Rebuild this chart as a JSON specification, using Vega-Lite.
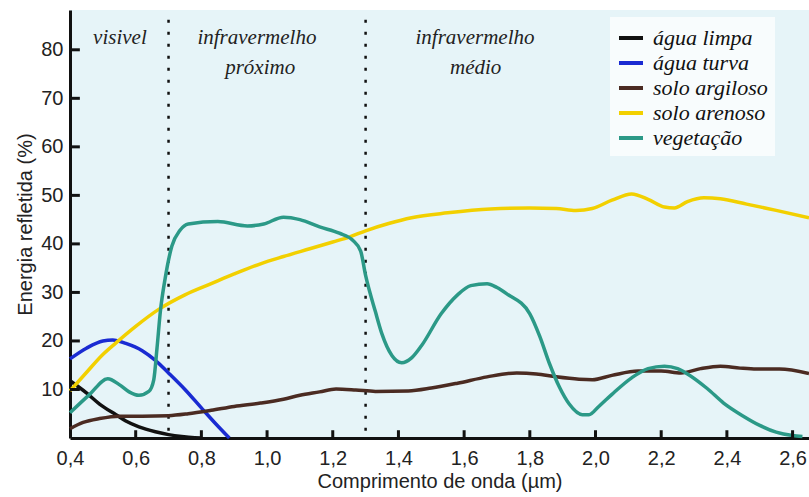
{
  "$schema": "https://vega.github.io/schema/vega-lite/v6.json",
  "width": 739,
  "height": 428,
  "autosize": {"type": "none"},
  "padding": {"left": 70, "top": 10, "right": 0, "bottom": 59},
  "background": "white",
  "config": {
    "view": {"fill": "#e6f4f8", "stroke": null},
    "font": "Liberation Sans",
    "axis": {
      "domainColor": "#111", "domainWidth": 3, "ticks": false, "tickSize": 0,
      "labelFont": "Liberation Sans", "labelFontSize": 20, "labelColor": "#222",
      "titleFont": "Liberation Sans", "titleFontSize": 20, "titleFontWeight": "normal", "titleColor": "#222",
      "grid": false, "zindex": 1
    }
  },
  "datasets": {
    "curves": [
      {"serie": "água limpa", "wl": 0.40, "refl": 11.8},
      {"serie": "água limpa", "wl": 0.45, "refl": 9.3},
      {"serie": "água limpa", "wl": 0.49, "refl": 7.0},
      {"serie": "água limpa", "wl": 0.54, "refl": 4.8},
      {"serie": "água limpa", "wl": 0.57, "refl": 3.5},
      {"serie": "água limpa", "wl": 0.61, "refl": 2.3},
      {"serie": "água limpa", "wl": 0.66, "refl": 1.3},
      {"serie": "água limpa", "wl": 0.70, "refl": 0.7},
      {"serie": "água limpa", "wl": 0.74, "refl": 0.3},
      {"serie": "água limpa", "wl": 0.78, "refl": 0.05},
      {"serie": "água limpa", "wl": 0.80, "refl": 0},
      {"serie": "água turva", "wl": 0.40, "refl": 16.3},
      {"serie": "água turva", "wl": 0.45, "refl": 18.5},
      {"serie": "água turva", "wl": 0.50, "refl": 20.0},
      {"serie": "água turva", "wl": 0.53, "refl": 20.2},
      {"serie": "água turva", "wl": 0.57, "refl": 19.5},
      {"serie": "água turva", "wl": 0.62, "refl": 18.0},
      {"serie": "água turva", "wl": 0.66, "refl": 16.0},
      {"serie": "água turva", "wl": 0.70, "refl": 13.4},
      {"serie": "água turva", "wl": 0.75, "refl": 10.0},
      {"serie": "água turva", "wl": 0.80, "refl": 6.2},
      {"serie": "água turva", "wl": 0.84, "refl": 3.2},
      {"serie": "água turva", "wl": 0.885, "refl": 0},
      {"serie": "solo argiloso", "wl": 0.40, "refl": 1.9},
      {"serie": "solo argiloso", "wl": 0.44, "refl": 3.2},
      {"serie": "solo argiloso", "wl": 0.49, "refl": 4.0},
      {"serie": "solo argiloso", "wl": 0.55, "refl": 4.5},
      {"serie": "solo argiloso", "wl": 0.62, "refl": 4.5},
      {"serie": "solo argiloso", "wl": 0.70, "refl": 4.6},
      {"serie": "solo argiloso", "wl": 0.76, "refl": 5.0},
      {"serie": "solo argiloso", "wl": 0.83, "refl": 5.7},
      {"serie": "solo argiloso", "wl": 0.90, "refl": 6.5},
      {"serie": "solo argiloso", "wl": 0.98, "refl": 7.2},
      {"serie": "solo argiloso", "wl": 1.05, "refl": 8.0},
      {"serie": "solo argiloso", "wl": 1.10, "refl": 8.8},
      {"serie": "solo argiloso", "wl": 1.16, "refl": 9.5},
      {"serie": "solo argiloso", "wl": 1.21, "refl": 10.1},
      {"serie": "solo argiloso", "wl": 1.27, "refl": 9.9},
      {"serie": "solo argiloso", "wl": 1.33, "refl": 9.6},
      {"serie": "solo argiloso", "wl": 1.43, "refl": 9.7},
      {"serie": "solo argiloso", "wl": 1.50, "refl": 10.3},
      {"serie": "solo argiloso", "wl": 1.58, "refl": 11.3},
      {"serie": "solo argiloso", "wl": 1.67, "refl": 12.6},
      {"serie": "solo argiloso", "wl": 1.76, "refl": 13.4},
      {"serie": "solo argiloso", "wl": 1.82, "refl": 13.2},
      {"serie": "solo argiloso", "wl": 1.88, "refl": 12.6},
      {"serie": "solo argiloso", "wl": 1.95, "refl": 12.1},
      {"serie": "solo argiloso", "wl": 1.99, "refl": 12.0},
      {"serie": "solo argiloso", "wl": 2.05, "refl": 12.9},
      {"serie": "solo argiloso", "wl": 2.13, "refl": 13.8},
      {"serie": "solo argiloso", "wl": 2.20, "refl": 13.8},
      {"serie": "solo argiloso", "wl": 2.26, "refl": 13.4},
      {"serie": "solo argiloso", "wl": 2.32, "refl": 14.3},
      {"serie": "solo argiloso", "wl": 2.38, "refl": 14.8},
      {"serie": "solo argiloso", "wl": 2.44, "refl": 14.4},
      {"serie": "solo argiloso", "wl": 2.49, "refl": 14.2},
      {"serie": "solo argiloso", "wl": 2.56, "refl": 14.2},
      {"serie": "solo argiloso", "wl": 2.65, "refl": 13.3},
      {"serie": "solo arenoso", "wl": 0.40, "refl": 9.7},
      {"serie": "solo arenoso", "wl": 0.45, "refl": 13.5},
      {"serie": "solo arenoso", "wl": 0.50, "refl": 17.2},
      {"serie": "solo arenoso", "wl": 0.54, "refl": 19.6},
      {"serie": "solo arenoso", "wl": 0.60, "refl": 23.0},
      {"serie": "solo arenoso", "wl": 0.67, "refl": 26.5},
      {"serie": "solo arenoso", "wl": 0.75, "refl": 29.5},
      {"serie": "solo arenoso", "wl": 0.83, "refl": 31.8},
      {"serie": "solo arenoso", "wl": 0.90, "refl": 33.8},
      {"serie": "solo arenoso", "wl": 0.98, "refl": 35.9},
      {"serie": "solo arenoso", "wl": 1.05, "refl": 37.4},
      {"serie": "solo arenoso", "wl": 1.13, "refl": 39.0},
      {"serie": "solo arenoso", "wl": 1.20, "refl": 40.4},
      {"serie": "solo arenoso", "wl": 1.25, "refl": 41.4},
      {"serie": "solo arenoso", "wl": 1.30, "refl": 42.7},
      {"serie": "solo arenoso", "wl": 1.37, "refl": 44.2},
      {"serie": "solo arenoso", "wl": 1.44, "refl": 45.4},
      {"serie": "solo arenoso", "wl": 1.55, "refl": 46.4},
      {"serie": "solo arenoso", "wl": 1.68, "refl": 47.2},
      {"serie": "solo arenoso", "wl": 1.80, "refl": 47.4},
      {"serie": "solo arenoso", "wl": 1.88, "refl": 47.3},
      {"serie": "solo arenoso", "wl": 1.94, "refl": 46.9},
      {"serie": "solo arenoso", "wl": 1.99, "refl": 47.3},
      {"serie": "solo arenoso", "wl": 2.05, "refl": 49.0},
      {"serie": "solo arenoso", "wl": 2.11, "refl": 50.3},
      {"serie": "solo arenoso", "wl": 2.16, "refl": 49.2},
      {"serie": "solo arenoso", "wl": 2.21, "refl": 47.6},
      {"serie": "solo arenoso", "wl": 2.24, "refl": 47.4},
      {"serie": "solo arenoso", "wl": 2.28, "refl": 48.7},
      {"serie": "solo arenoso", "wl": 2.33, "refl": 49.5},
      {"serie": "solo arenoso", "wl": 2.38, "refl": 49.3},
      {"serie": "solo arenoso", "wl": 2.46, "refl": 48.2},
      {"serie": "solo arenoso", "wl": 2.55, "refl": 46.9},
      {"serie": "solo arenoso", "wl": 2.65, "refl": 45.4},
      {"serie": "vegetação", "wl": 0.40, "refl": 5.2},
      {"serie": "vegetação", "wl": 0.46, "refl": 9.0},
      {"serie": "vegetação", "wl": 0.515, "refl": 12.2},
      {"serie": "vegetação", "wl": 0.55, "refl": 11.0},
      {"serie": "vegetação", "wl": 0.58, "refl": 9.5},
      {"serie": "vegetação", "wl": 0.61, "refl": 8.8},
      {"serie": "vegetação", "wl": 0.64, "refl": 9.6},
      {"serie": "vegetação", "wl": 0.655, "refl": 12.0},
      {"serie": "vegetação", "wl": 0.665, "refl": 18.6},
      {"serie": "vegetação", "wl": 0.675, "refl": 26.0},
      {"serie": "vegetação", "wl": 0.69, "refl": 33.0},
      {"serie": "vegetação", "wl": 0.71, "refl": 39.5},
      {"serie": "vegetação", "wl": 0.735, "refl": 42.8},
      {"serie": "vegetação", "wl": 0.76, "refl": 44.1},
      {"serie": "vegetação", "wl": 0.85, "refl": 44.6},
      {"serie": "vegetação", "wl": 0.94, "refl": 43.7},
      {"serie": "vegetação", "wl": 0.99, "refl": 44.1},
      {"serie": "vegetação", "wl": 1.05, "refl": 45.5},
      {"serie": "vegetação", "wl": 1.10, "refl": 45.0},
      {"serie": "vegetação", "wl": 1.16, "refl": 43.5},
      {"serie": "vegetação", "wl": 1.22, "refl": 42.2},
      {"serie": "vegetação", "wl": 1.26, "refl": 40.8},
      {"serie": "vegetação", "wl": 1.285, "refl": 38.5},
      {"serie": "vegetação", "wl": 1.30, "refl": 33.5},
      {"serie": "vegetação", "wl": 1.33, "refl": 26.0},
      {"serie": "vegetação", "wl": 1.35, "refl": 21.4},
      {"serie": "vegetação", "wl": 1.38, "refl": 17.0},
      {"serie": "vegetação", "wl": 1.41, "refl": 15.5},
      {"serie": "vegetação", "wl": 1.44, "refl": 16.5},
      {"serie": "vegetação", "wl": 1.47, "refl": 19.0},
      {"serie": "vegetação", "wl": 1.53, "refl": 25.6},
      {"serie": "vegetação", "wl": 1.58, "refl": 29.5},
      {"serie": "vegetação", "wl": 1.62, "refl": 31.4},
      {"serie": "vegetação", "wl": 1.67, "refl": 31.8},
      {"serie": "vegetação", "wl": 1.70, "refl": 31.0},
      {"serie": "vegetação", "wl": 1.73, "refl": 29.7},
      {"serie": "vegetação", "wl": 1.80, "refl": 25.6},
      {"serie": "vegetação", "wl": 1.83, "refl": 21.0},
      {"serie": "vegetação", "wl": 1.86, "refl": 15.3},
      {"serie": "vegetação", "wl": 1.89, "refl": 10.5},
      {"serie": "vegetação", "wl": 1.92, "refl": 7.0},
      {"serie": "vegetação", "wl": 1.96, "refl": 4.8},
      {"serie": "vegetação", "wl": 1.98, "refl": 4.8},
      {"serie": "vegetação", "wl": 2.01, "refl": 6.5},
      {"serie": "vegetação", "wl": 2.05, "refl": 9.0},
      {"serie": "vegetação", "wl": 2.11, "refl": 12.4},
      {"serie": "vegetação", "wl": 2.16, "refl": 14.3},
      {"serie": "vegetação", "wl": 2.21, "refl": 14.8},
      {"serie": "vegetação", "wl": 2.25, "refl": 14.3},
      {"serie": "vegetação", "wl": 2.28, "refl": 13.2},
      {"serie": "vegetação", "wl": 2.34, "refl": 10.2},
      {"serie": "vegetação", "wl": 2.39, "refl": 7.2},
      {"serie": "vegetação", "wl": 2.45, "refl": 4.5},
      {"serie": "vegetação", "wl": 2.50, "refl": 2.6},
      {"serie": "vegetação", "wl": 2.55, "refl": 1.2},
      {"serie": "vegetação", "wl": 2.60, "refl": 0.5},
      {"serie": "vegetação", "wl": 2.63, "refl": 0.3}
    ],
    "limites": [{"wl": 0.7}, {"wl": 1.3}],
    "xticks": [{"wl": 0.6}, {"wl": 0.8}, {"wl": 1.0}, {"wl": 1.2}, {"wl": 1.4}, {"wl": 1.6}, {"wl": 1.8}, {"wl": 2.0}, {"wl": 2.2}, {"wl": 2.4}, {"wl": 2.6}],
    "yticks": [{"refl": 10}, {"refl": 20}, {"refl": 30}, {"refl": 40}, {"refl": 50}, {"refl": 60}, {"refl": 70}, {"refl": 80}],
    "regioes": [
      {"txt": "visivel", "wl": 0.552, "refl": 82.4},
      {"txt": "infravermelho", "wl": 0.969, "refl": 82.4},
      {"txt": "próximo", "wl": 0.979, "refl": 76.2},
      {"txt": "infravermelho", "wl": 1.633, "refl": 82.4},
      {"txt": "médio", "wl": 1.635, "refl": 76.2}
    ]
  },
  "layer": [
    {
      "data": {"name": "limites"},
      "mark": {"type": "rule", "color": "#111", "strokeWidth": 2.5, "strokeDash": [3, 9]},
      "encoding": {
        "x": {"field": "wl", "type": "quantitative", "scale": {"domain": [0.4, 2.65], "nice": false, "zero": false}},
        "y": {"datum": 1.5, "type": "quantitative"},
        "y2": {"datum": 88}
      }
    },
    {
      "data": {"name": "curves"},
      "mark": {"type": "line", "strokeWidth": 3.5, "interpolate": "monotone"},
      "encoding": {
        "x": {
          "field": "wl", "type": "quantitative",
          "scale": {"domain": [0.4, 2.65], "nice": false, "zero": false},
          "axis": {
            "values": [0.4, 0.6, 0.8, 1.0, 1.2, 1.4, 1.6, 1.8, 2.0, 2.2, 2.4, 2.6],
            "labelExpr": "replace(format(datum.value, '.1f'), '.', ',')",
            "title": "Comprimento de onda (µm)",
            "labelPadding": 10, "titlePadding": 3, "labelFlush": false
          }
        },
        "y": {
          "field": "refl", "type": "quantitative",
          "scale": {"domain": [0, 88.2], "nice": false},
          "axis": {
            "values": [10, 20, 30, 40, 50, 60, 70, 80],
            "title": "Energia refletida (%)",
            "labelPadding": 7, "titlePadding": 5
          }
        },
        "color": {
          "field": "serie", "type": "nominal",
          "scale": {
            "domain": ["água limpa", "água turva", "solo argiloso", "solo arenoso", "vegetação"],
            "range": ["#111111", "#1a2bd2", "#4b2b22", "#f2d000", "#2b9987"]
          },
          "legend": {
            "title": null, "orient": "none", "legendX": 540, "legendY": 7,
            "fillColor": "#f8fcfd", "padding": 7,
            "symbolType": "stroke", "symbolStrokeWidth": 4, "symbolSize": 576,
            "labelFont": "Liberation Serif", "labelFontStyle": "italic", "labelFontSize": 22, "labelColor": "#111",
            "labelOffset": 8, "rowPadding": -3
          }
        }
      }
    },
    {
      "data": {"name": "xticks"},
      "mark": {"type": "rule", "color": "#111", "strokeWidth": 3},
      "encoding": {
        "x": {"field": "wl", "type": "quantitative"},
        "y": {"datum": 0, "type": "quantitative"},
        "y2": {"datum": 1.6}
      }
    },
    {
      "data": {"name": "yticks"},
      "mark": {"type": "rule", "color": "#111", "strokeWidth": 3},
      "encoding": {
        "y": {"field": "refl", "type": "quantitative"},
        "x": {"datum": 0.4, "type": "quantitative"},
        "x2": {"datum": 0.43}
      }
    },
    {
      "data": {"name": "regioes"},
      "mark": {"type": "text", "font": "Liberation Serif", "fontStyle": "italic", "fontSize": 21, "color": "#222", "baseline": "middle", "align": "center"},
      "encoding": {
        "x": {"field": "wl", "type": "quantitative"},
        "y": {"field": "refl", "type": "quantitative"},
        "text": {"field": "txt"}
      }
    }
  ]
}
